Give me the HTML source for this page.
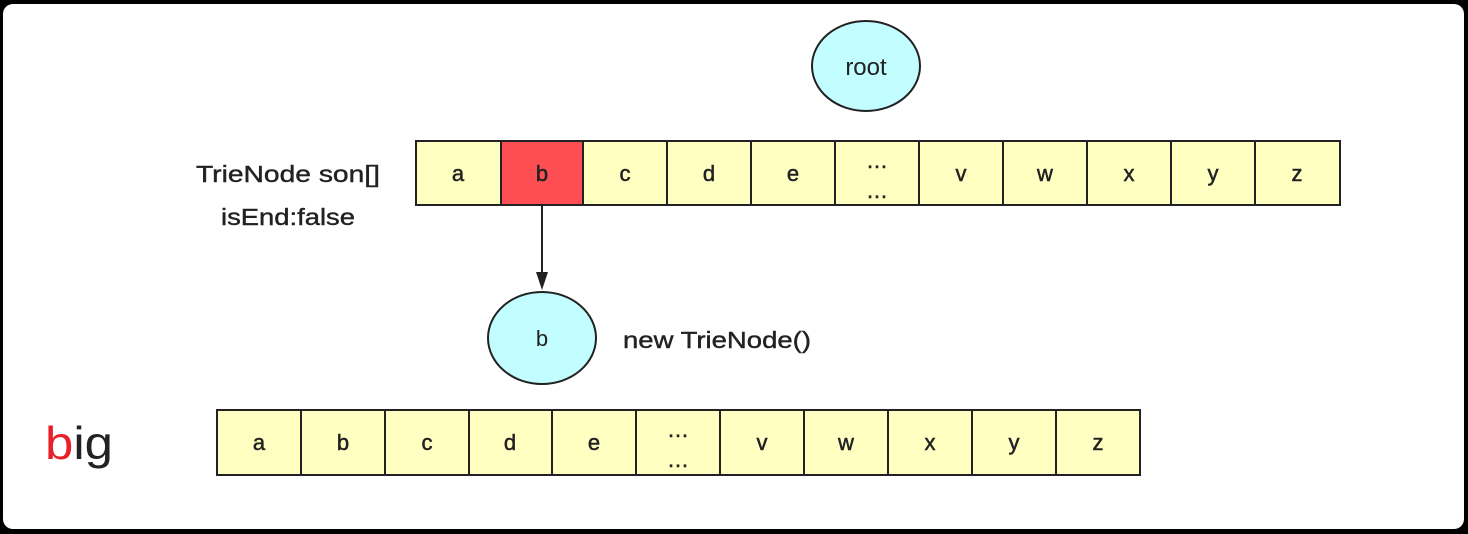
<!DOCTYPE html>
<html><head><meta charset="utf-8"><style>
html,body{margin:0;padding:0;background:#000;}
svg{display:block;}
text{font-family:"Liberation Sans",sans-serif;fill:#222;}
</style></head><body>
<svg width="1468" height="534" viewBox="0 0 1468 534" xmlns="http://www.w3.org/2000/svg">
<rect x="0" y="0" width="1468" height="534" fill="#000"/>
<rect x="3" y="4" width="1461" height="525" rx="10" fill="#fff"/>
<g stroke="#222" stroke-width="2">
<rect x="416" y="141" width="924" height="64" fill="#ffffc2"/>
<rect x="501" y="141" width="82" height="64" fill="#fd4f53"/>
<line x1="501" y1="141" x2="501" y2="205"/><line x1="583" y1="141" x2="583" y2="205"/>
<line x1="667" y1="141" x2="667" y2="205"/><line x1="751" y1="141" x2="751" y2="205"/>
<line x1="835" y1="141" x2="835" y2="205"/><line x1="919" y1="141" x2="919" y2="205"/>
<line x1="1003" y1="141" x2="1003" y2="205"/><line x1="1087" y1="141" x2="1087" y2="205"/>
<line x1="1171" y1="141" x2="1171" y2="205"/><line x1="1255" y1="141" x2="1255" y2="205"/>
<rect x="217" y="410" width="923" height="65" fill="#ffffc2"/>
<line x1="301" y1="410" x2="301" y2="475"/><line x1="385" y1="410" x2="385" y2="475"/>
<line x1="469" y1="410" x2="469" y2="475"/><line x1="552" y1="410" x2="552" y2="475"/>
<line x1="636" y1="410" x2="636" y2="475"/><line x1="720" y1="410" x2="720" y2="475"/>
<line x1="804" y1="410" x2="804" y2="475"/><line x1="888" y1="410" x2="888" y2="475"/>
<line x1="972" y1="410" x2="972" y2="475"/><line x1="1056" y1="410" x2="1056" y2="475"/>
<ellipse cx="866" cy="66" rx="54" ry="45" fill="#c2fdff"/>
<ellipse cx="542" cy="338" rx="54" ry="46" fill="#c2fdff"/>
<line x1="542" y1="205" x2="542" y2="276"/>
</g>
<polygon points="536,272 548,272 542,290" fill="#222"/>
<g font-size="22" text-anchor="middle" stroke="#222" stroke-width="0.5">
<text x="458" y="181">a</text><text x="542" y="181">b</text><text x="625" y="181">c</text>
<text x="709" y="181">d</text><text x="793" y="181">e</text>
<text x="877" y="168">…</text><text x="877" y="198">…</text>
<text x="961" y="181">v</text><text x="1045" y="181">w</text><text x="1129" y="181">x</text>
<text x="1213" y="181">y</text><text x="1297" y="181">z</text>
<text x="259" y="450">a</text><text x="343" y="450">b</text><text x="427" y="450">c</text>
<text x="510" y="450">d</text><text x="594" y="450">e</text>
<text x="678" y="437">…</text><text x="678" y="467">…</text>
<text x="762" y="450">v</text><text x="846" y="450">w</text><text x="930" y="450">x</text>
<text x="1014" y="450">y</text><text x="1098" y="450">z</text>
</g>
<text x="866" y="75" font-size="24" text-anchor="middle">root</text>
<text x="542" y="346" font-size="22" text-anchor="middle">b</text>
<g stroke="#222" stroke-width="0.4">
<text x="196" y="182" font-size="23" textLength="184" lengthAdjust="spacingAndGlyphs">TrieNode son[]</text>
<text x="221" y="225" font-size="23" textLength="134" lengthAdjust="spacingAndGlyphs">isEnd:false</text>
<text x="623" y="348" font-size="23" textLength="188" lengthAdjust="spacingAndGlyphs">new TrieNode()</text>
</g>
<text x="45" y="459" font-size="46" textLength="68" lengthAdjust="spacingAndGlyphs"><tspan fill="#e8202a">b</tspan>ig</text>
</svg>
</body></html>
